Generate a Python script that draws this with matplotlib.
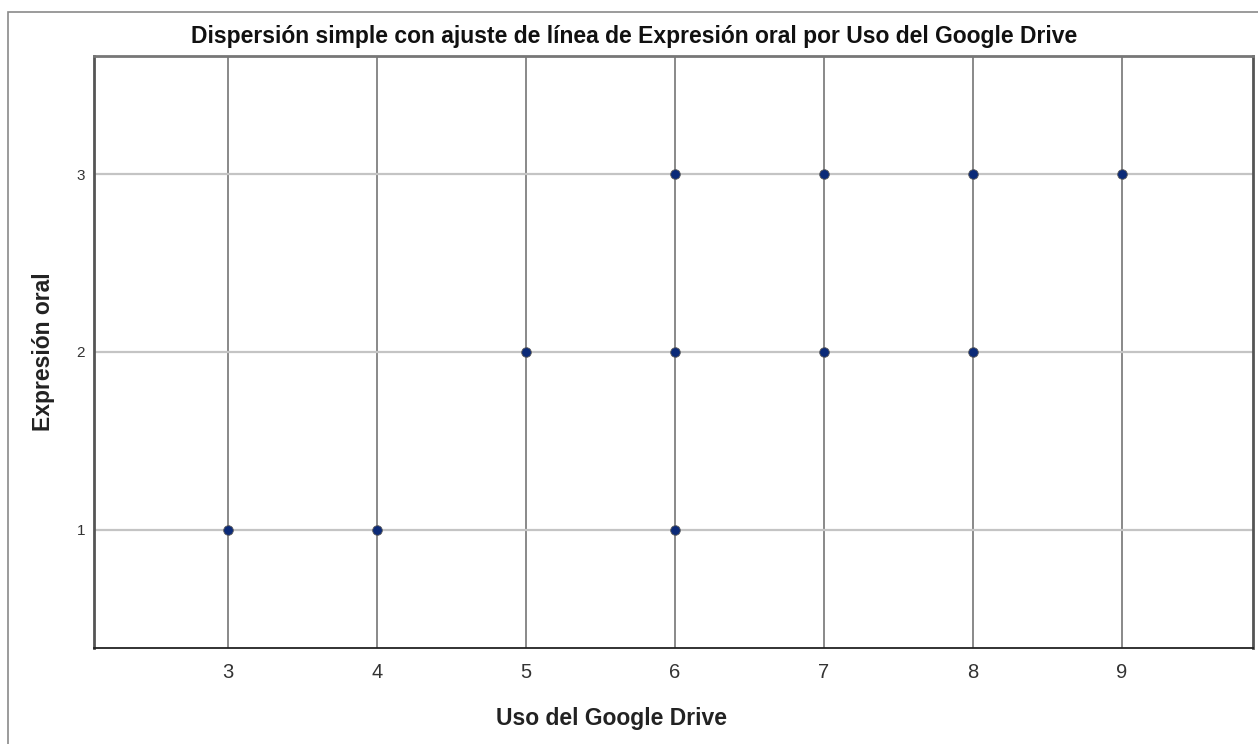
import matplotlib
matplotlib.use("Agg")
from matplotlib import pyplot as plt
from matplotlib.patches import Rectangle

# data
uso_drive = [3, 4, 5, 6, 6, 6, 7, 7, 8, 8, 9]
expresion_oral = [1, 1, 2, 1, 2, 3, 2, 3, 2, 3, 3]
x_ticks = [3, 4, 5, 6, 7, 8, 9]
y_ticks = [1, 2, 3]

plt.rcParams['font.family'] = ['Liberation Sans', 'DejaVu Sans']

W, H = 1258, 744
fig = plt.figure(figsize=(W / 100, H / 100), dpi=100)
ax = fig.add_axes([94 / W, 1 - 648 / H, (1253 - 94) / W, (648 - 56) / H])

# outer frame of the chart
fig.patches.append(Rectangle((7.5 / W, -0.1), 1.2, 1 - 11.5 / H + 0.1, transform=fig.transFigure,
                             fill=False, edgecolor='#8a8a8a', linewidth=1.2, clip_on=False))

ax.set_xlim(2.101, 9.879)
ax.set_ylim(0.337, 3.663)
ax.set_xticks(x_ticks)
ax.set_yticks(y_ticks)
ax.set_xticklabels([str(v) for v in x_ticks], fontsize=14.5, color='#333333')
ax.set_yticklabels([str(v) for v in y_ticks], fontsize=11, color='#333333')
ax.tick_params(length=0)
ax.tick_params(axis='x', pad=10.5)
ax.tick_params(axis='y', pad=6.5)

for v in x_ticks:
    ax.axvline(v, color='#808080', linewidth=1.3, zorder=1)
for v in y_ticks:
    ax.axhline(v, color='#c4c4c4', linewidth=1.6, zorder=1)

ax.spines['bottom'].set_color('#222222')
ax.spines['bottom'].set_linewidth(1.3)
ax.spines['left'].set_color('#555555')
ax.spines['left'].set_linewidth(2)
ax.spines['top'].set_color('#777777')
ax.spines['top'].set_linewidth(2)
ax.spines['right'].set_color('#555555')
ax.spines['right'].set_linewidth(2)

ax.scatter(uso_drive, expresion_oral, s=48, color='#0b2a78', edgecolors='#5a5a5a',
           linewidths=0.6, zorder=3)

fig.text(634 / W, 1 - 37 / H, 'Dispersión simple con ajuste de línea de Expresión oral por Uso del Google Drive',
         ha='center', va='center', fontsize=16.5, fontweight='bold', color='#111111')
fig.text(611 / W, 1 - 718 / H, 'Uso del Google Drive', ha='center', va='center',
         fontsize=16.5, fontweight='bold', color='#222222')
fig.text(44 / W, 1 - 352 / H, 'Expresión oral', ha='center', va='center', rotation=90,
         fontsize=16.5, fontweight='bold', color='#222222')

fig.savefig('out.png', dpi=100)
plt.close(fig)
